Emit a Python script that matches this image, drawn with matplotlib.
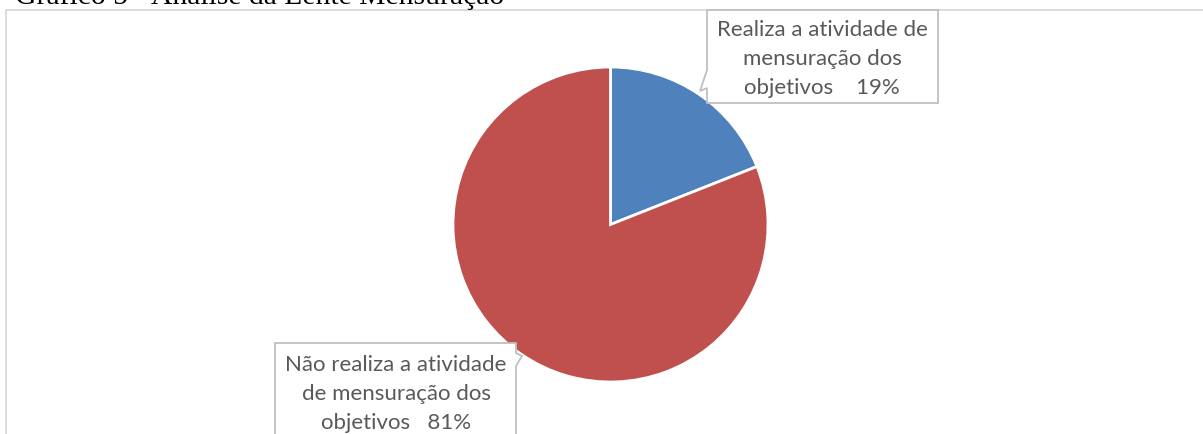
import matplotlib
matplotlib.use("Agg")
import matplotlib.pyplot as plt
from matplotlib.patches import Polygon

# data
labels = ["Realiza a atividade de\nmensuração dos\nobjetivos    19%",
          "Não realiza a atividade\nde mensuração dos\nobjetivos   81%"]
values = [19, 81]
colors = ["#4F81BD", "#C0504D"]
title = "Gráfico 5 - Análise da Lente Mensuração"

W, H = 1203, 434
fig = plt.figure(figsize=(W / 100, H / 100), dpi=100)
ax = fig.add_axes([0, 0, 1, 1])


def py(y):
    # pixel row (from top) -> data y
    return H - y


ax.pie(values, colors=colors, startangle=90, counterclock=False,
       center=(610.5, py(224.5)), radius=157.5,
       wedgeprops=dict(edgecolor="white", linewidth=2), frame=True)
ax.set_xlim(0, W)
ax.set_ylim(0, H)
ax.set_aspect("equal")
ax.axis("off")

# chart frame
ax.plot([6, 6, W + 5], [py(H + 5), py(9.5), py(9.5)], color="#D9D9D9", lw=1.3)

# callout 1 (top right)
box1 = [(707, 10), (938, 10), (938, 103), (707, 103), (707, 88), (700, 91), (707, 70)]
ax.add_patch(Polygon([(x, py(y)) for x, y in box1], closed=True,
                     facecolor="white", edgecolor="#BFBFBF", lw=1.3, zorder=3))
ax.text(822, py(59), labels[0], ha="center", va="center", fontsize=16,
        family="Lato", color="#595959", linespacing=1.56, zorder=4)

# callout 2 (bottom left)
box2 = [(275, 343), (516, 343), (516, 353), (522, 356), (516, 366), (516, H + 5), (275, H + 5)]
ax.add_patch(Polygon([(x, py(y)) for x, y in box2], closed=True,
                     facecolor="white", edgecolor="#BFBFBF", lw=1.3, zorder=3))
ax.text(396, py(394), labels[1], ha="center", va="center", fontsize=16,
        family="Lato", color="#595959", linespacing=1.56, zorder=4)

# title, cut off by the top edge as in the source
fig.text(15 / W, 1 - 4.5 / H, title, ha="left", va="baseline",
         fontsize=21.3, family="Liberation Serif", color="black")

fig.savefig("out.png", dpi=100)
